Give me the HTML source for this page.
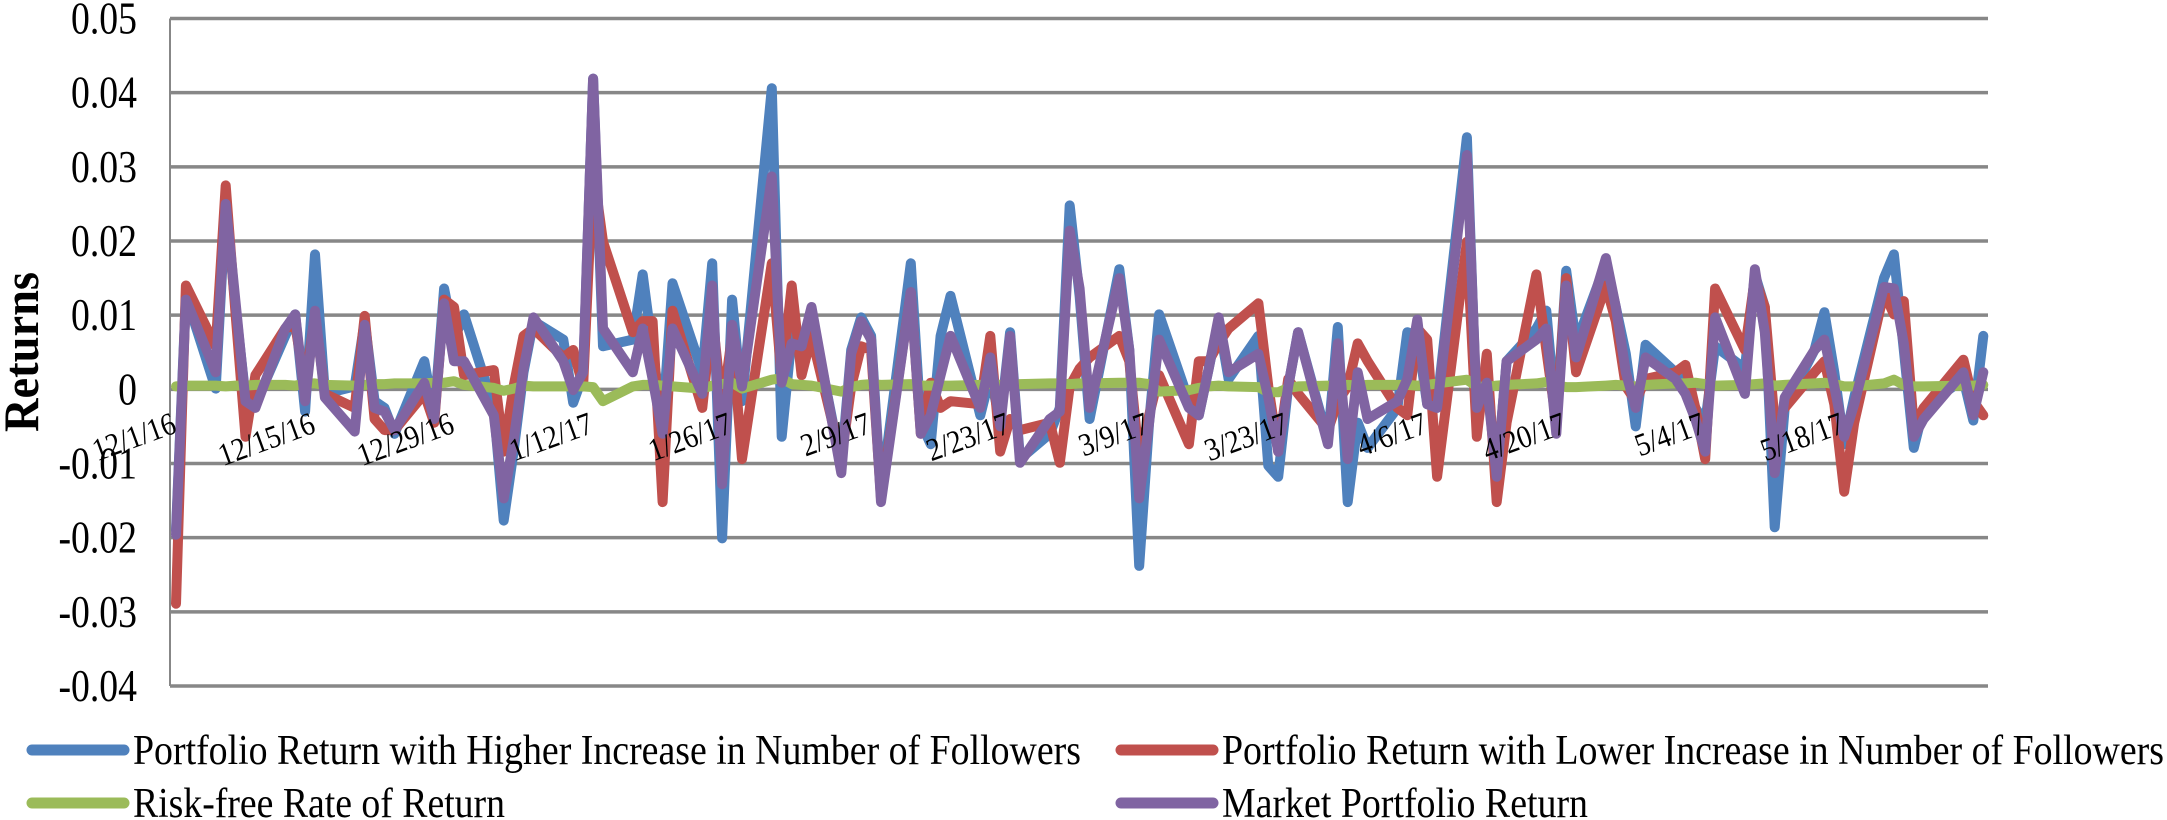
<!DOCTYPE html>
<html><head><meta charset="utf-8">
<style>
html,body{margin:0;padding:0;background:#fff;}
svg{display:block;font-family:"Liberation Serif","DejaVu Serif",serif;}
</style></head>
<body>
<svg id="chart" width="2167" height="820" viewBox="0 0 2167 820" xmlns="http://www.w3.org/2000/svg">
  <g id="grid"></g>
  <g id="yticks"></g>
  <g id="series"></g>
  <g id="xticks"></g>
  <text x="0" y="0" transform="translate(38,352) rotate(-90)" text-anchor="middle" font-size="50" font-weight="bold" fill="#000" textLength="160" lengthAdjust="spacingAndGlyphs">Returns</text>
  <g>
    <g>
      <line x1="32" y1="750" x2="124" y2="750" stroke="#4F81BD" stroke-width="11" stroke-linecap="round"/>
      <text x="133" y="764" font-size="42" textLength="948" lengthAdjust="spacingAndGlyphs">Portfolio Return with Higher Increase in Number of Followers</text>
    </g>
    <g>
      <line x1="1121" y1="750" x2="1213" y2="750" stroke="#C0504D" stroke-width="11" stroke-linecap="round"/>
      <text x="1222" y="764" font-size="42" textLength="942" lengthAdjust="spacingAndGlyphs">Portfolio Return with Lower Increase in Number of Followers</text>
    </g>
    <g>
      <line x1="32" y1="803" x2="124" y2="803" stroke="#9BBB59" stroke-width="11" stroke-linecap="round"/>
      <text x="133" y="817" font-size="42" textLength="372" lengthAdjust="spacingAndGlyphs">Risk-free Rate of Return</text>
    </g>
    <g>
      <line x1="1121" y1="803" x2="1213" y2="803" stroke="#8064A2" stroke-width="11" stroke-linecap="round"/>
      <text x="1222" y="817" font-size="42" textLength="366" lengthAdjust="spacingAndGlyphs">Market Portfolio Return</text>
    </g>
  </g>
</svg>
<script>
const dates = ["2016-12-01","2016-12-02","2016-12-05","2016-12-06","2016-12-07","2016-12-08","2016-12-09","2016-12-12","2016-12-13","2016-12-14","2016-12-15","2016-12-16","2016-12-19","2016-12-20","2016-12-21","2016-12-22","2016-12-23","2016-12-26","2016-12-27","2016-12-28","2016-12-29","2016-12-30",
"2017-01-02","2017-01-03","2017-01-04","2017-01-05","2017-01-06","2017-01-09","2017-01-10","2017-01-11","2017-01-12","2017-01-13","2017-01-16","2017-01-17","2017-01-18","2017-01-19","2017-01-20","2017-01-23","2017-01-24","2017-01-25","2017-01-26","2017-01-27","2017-01-30","2017-01-31",
"2017-02-01","2017-02-02","2017-02-03","2017-02-06","2017-02-07","2017-02-08","2017-02-09","2017-02-10","2017-02-13","2017-02-14","2017-02-15","2017-02-16","2017-02-17","2017-02-20","2017-02-21","2017-02-22","2017-02-23","2017-02-24","2017-02-27","2017-02-28",
"2017-03-01","2017-03-02","2017-03-03","2017-03-06","2017-03-07","2017-03-08","2017-03-09","2017-03-10","2017-03-13","2017-03-14","2017-03-15","2017-03-16","2017-03-17","2017-03-20","2017-03-21","2017-03-22","2017-03-23","2017-03-24","2017-03-27","2017-03-28","2017-03-29","2017-03-30","2017-03-31",
"2017-04-03","2017-04-04","2017-04-05","2017-04-06","2017-04-07","2017-04-10","2017-04-11","2017-04-12","2017-04-13","2017-04-14","2017-04-17","2017-04-18","2017-04-19","2017-04-20","2017-04-21","2017-04-24","2017-04-25","2017-04-26","2017-04-27","2017-04-28",
"2017-05-01","2017-05-02","2017-05-03","2017-05-04","2017-05-05","2017-05-08","2017-05-09","2017-05-10","2017-05-11","2017-05-12","2017-05-15","2017-05-16","2017-05-17","2017-05-18","2017-05-19","2017-05-22","2017-05-23","2017-05-24","2017-05-25","2017-05-26","2017-05-30","2017-05-31","2017-06-01"];

const higherReturns = [-0.0190,0.0126,0.0001,0.0248,0.0111,-0.0011,-0.0020,0.0072,0.0101,-0.0030,0.0182,-0.0006,0.0004,0.0092,-0.0016,-0.0025,-0.0060,0.0038,-0.0035,0.0136,0.0067,0.0101,
-0.0025,-0.0177,-0.0084,0.0023,0.0092,0.0067,-0.0018,0.0019,0.0419,0.0058,0.0067,0.0155,0.0053,-0.0045,0.0143,0.0023,0.0170,-0.0201,0.0121,-0.0016,0.0406,-0.0064,
0.0072,0.0053,0.0101,-0.0103,0.0053,0.0097,0.0072,-0.0142,0.0170,-0.0045,-0.0074,0.0072,0.0126,-0.0035,0.0019,-0.0045,0.0077,-0.0094,-0.0060,-0.0025,
0.0248,0.0126,-0.0040,0.0162,0.0053,-0.0238,-0.0045,0.0101,-0.0016,-0.0035,0.0028,0.0092,0.0014,0.0072,-0.0103,-0.0118,0.0004,0.0077,-0.0069,0.0084,-0.0152,-0.0045,-0.0079,
-0.0025,0.0077,0.0072,-0.0020,-0.0020,0.0340,-0.0040,0.0014,-0.0118,0.0038,0.0082,0.0106,-0.0045,0.0160,0.0062,0.0170,0.0111,0.0048,-0.0050,0.0060,
0.0023,0.0014,-0.0025,-0.0045,0.0058,0.0028,0.0155,0.0111,-0.0186,-0.0025,0.0053,0.0104,0.0023,-0.0074,-0.0011,0.0150,0.0182,0.0053,-0.0079,-0.0025,0.0014,-0.0042,0.0072];

const lowerReturns = [-0.0289,0.0140,0.0058,0.0275,0.0101,-0.0064,0.0019,0.0082,0.0087,0.0004,0.0101,-0.0006,-0.0025,0.0099,-0.0040,-0.0055,-0.0055,-0.0006,-0.0045,0.0121,0.0111,0.0019,
0.0026,-0.0084,0.0004,0.0072,0.0082,0.0043,0.0053,0.0004,0.0297,0.0199,0.0077,0.0092,0.0092,-0.0152,0.0106,-0.0025,0.0101,-0.0025,0.0072,-0.0094,0.0170,0.0014,
0.0140,0.0019,0.0072,-0.0094,0.0004,0.0058,0.0053,-0.0147,0.0131,-0.0060,0.0009,-0.0025,-0.0016,-0.0020,0.0072,-0.0084,-0.0040,-0.0055,-0.0045,-0.0099,
0.0004,0.0028,0.0043,0.0072,0.0038,-0.0094,-0.0035,0.0019,-0.0074,0.0038,0.0038,0.0062,0.0082,0.0116,0.0004,-0.0084,0.0014,-0.0006,-0.0055,-0.0016,0.0004,0.0062,0.0038,
-0.0025,-0.0035,0.0082,0.0067,-0.0118,0.0199,-0.0064,0.0048,-0.0152,-0.0045,0.0155,0.0053,-0.0045,0.0150,0.0023,0.0140,0.0092,0.0004,-0.0016,0.0014,
0.0023,0.0033,-0.0025,-0.0094,0.0136,0.0053,0.0150,0.0111,-0.0045,-0.0025,0.0023,0.0038,-0.0020,-0.0138,-0.0045,0.0131,0.0101,0.0119,-0.0050,-0.0025,0.0040,-0.0016,-0.0035];

const riskFree = [0.0004,0.0005,0.0005,0.0004,0.0005,0.0005,0.0006,0.0006,0.0005,0.0008,0.0008,0.0006,0.0005,0.0006,0.0007,0.0007,0.0008,0.0008,0.0009,0.0009,0.0011,0.0006,
0.0002,-0.0002,0.0001,0.0005,0.0004,0.0004,0.0004,0.0004,0.0003,-0.0016,0.0004,0.0006,0.0006,0.0005,0.0004,0.0001,0.0005,0.0007,0.0009,0.0001,0.0013,0.0015,
0.0007,0.0006,0.0005,-0.0003,0.0003,0.0006,0.0007,0.0006,0.0007,0.0005,0.0005,0.0005,0.0005,0.0006,0.0007,0.0006,0.0006,0.0007,0.0008,0.0008,
0.0007,0.0008,0.0008,0.0009,0.0009,0.0009,0.0007,-0.0003,-0.0001,0.0002,0.0004,0.0005,0.0004,0.0003,-0.0004,-0.0004,0.0002,0.0004,0.0005,0.0005,0.0006,0.0005,0.0006,
0.0006,0.0006,0.0005,0.0006,0.0008,0.0013,0.0004,0.0003,0.0005,0.0006,0.0008,0.0010,0.0005,0.0003,0.0003,0.0005,0.0006,0.0005,0.0004,0.0006,
0.0008,0.0008,0.0009,0.0007,0.0005,0.0006,0.0007,0.0008,0.0005,0.0006,0.0008,0.0009,0.0007,0.0004,0.0004,0.0008,0.0013,0.0006,0.0004,0.0004,0.0005,0.0005,0.0006];

const marketReturns = [-0.0196,0.0121,0.0023,0.0250,0.0117,-0.0016,-0.0025,0.0082,0.0101,-0.0016,0.0106,-0.0011,-0.0057,0.0087,-0.0025,-0.0030,-0.0055,0.0009,-0.0040,0.0116,0.0038,0.0038,
-0.0035,-0.0147,-0.0069,0.0028,0.0097,0.0038,-0.0001,0.0023,0.0419,0.0082,0.0023,0.0082,0.0014,-0.0060,0.0082,-0.0006,0.0140,-0.0128,0.0087,0.0004,0.0287,0.0009,
0.0062,0.0058,0.0111,-0.0113,0.0048,0.0092,0.0067,-0.0152,0.0131,-0.0060,-0.0035,0.0019,0.0072,-0.0025,0.0043,-0.0050,0.0072,-0.0099,-0.0040,-0.0030,
0.0214,0.0136,-0.0025,0.0150,0.0053,-0.0147,-0.0045,0.0067,-0.0025,-0.0035,0.0028,0.0097,0.0023,0.0048,-0.0011,-0.0084,0.0004,0.0077,-0.0074,0.0062,-0.0094,0.0023,-0.0040,
-0.0016,0.0014,0.0094,-0.0020,-0.0025,0.0316,-0.0025,0.0009,-0.0118,0.0038,0.0067,0.0082,-0.0060,0.0140,0.0043,0.0177,0.0111,0.0023,-0.0025,0.0043,
0.0014,-0.0006,-0.0040,-0.0084,0.0097,-0.0006,0.0162,0.0077,-0.0113,-0.0011,0.0053,0.0067,0.0004,-0.0064,-0.0020,0.0138,0.0136,0.0062,-0.0064,-0.0040,0.0023,-0.0035,0.0023];

const yTicks = [0.05,0.04,0.03,0.02,0.01,0,-0.01,-0.02,-0.03,-0.04];
const yTickLabels = ["0.05","0.04","0.03","0.02","0.01","0","-0.01","-0.02","-0.03","-0.04"];
const xTickDates = ["2016-12-01","2016-12-15","2016-12-29","2017-01-12","2017-01-26","2017-02-09","2017-02-23","2017-03-09","2017-03-23","2017-04-06","2017-04-20","2017-05-04","2017-05-18"];
const xTickLabels = ["12/1/16","12/15/16","12/29/16","1/12/17","1/26/17","2/9/17","2/23/17","3/9/17","3/23/17","4/6/17","4/20/17","5/4/17","5/18/17"];

const NS = "http://www.w3.org/2000/svg";
const PLOT_L = 170, PLOT_R = 1988, Y_TOP = 18.5, Y_BOT = 686;
const X0 = 176, PX_PER_DAY = 9.93;
const START = Date.UTC(2016,11,1);
function dayOffset(s){const p=s.split("-");return Math.round((Date.UTC(+p[0],+p[1]-1,+p[2])-START)/86400000);}
function xScale(s){return X0 + dayOffset(s)*PX_PER_DAY;}
function yScale(v){return Y_TOP + (0.05 - v)/0.09*(Y_BOT-Y_TOP);}

const grid = document.getElementById("grid");
const yt = document.getElementById("yticks");
yTicks.forEach((v,i)=>{
  const y = yScale(v);
  const ln = document.createElementNS(NS,"line");
  ln.setAttribute("x1",PLOT_L);ln.setAttribute("x2",PLOT_R);
  ln.setAttribute("y1",y);ln.setAttribute("y2",y);
  ln.setAttribute("stroke","#878787");ln.setAttribute("stroke-width","3.5");
  
  
  grid.appendChild(ln);
  const t = document.createElementNS(NS,"text");
  t.setAttribute("x",0);t.setAttribute("y",0);
  t.setAttribute("transform","translate(137,"+(y+15).toFixed(1)+") scale(0.82,1)");
  t.setAttribute("text-anchor","end");t.setAttribute("font-size","46");
  t.textContent = yTickLabels[i];
  
  
  yt.appendChild(t);
});
const ax = document.createElementNS(NS,"line");
ax.setAttribute("x1",PLOT_L);ax.setAttribute("x2",PLOT_L);
ax.setAttribute("y1",Y_TOP);ax.setAttribute("y2",Y_BOT);
ax.setAttribute("stroke","#878787");ax.setAttribute("stroke-width","2");


grid.appendChild(ax);

const seriesG = document.getElementById("series");
function drawSeries(vals,color,name,w){
  const pts = vals.map((v,i)=>xScale(dates[i]).toFixed(1)+","+yScale(v).toFixed(1)).join(" ");
  const pl = document.createElementNS(NS,"polyline");
  pl.setAttribute("points",pts);pl.setAttribute("fill","none");
  pl.setAttribute("stroke",color);pl.setAttribute("stroke-width",w);
  pl.setAttribute("stroke-linejoin","round");pl.setAttribute("stroke-linecap","round");
  
  
  seriesG.appendChild(pl);
}
drawSeries(higherReturns,"#4F81BD","series-higher-followers",10);
drawSeries(lowerReturns,"#C0504D","series-lower-followers",10);
drawSeries(riskFree,"#9BBB59","series-risk-free",10);
drawSeries(marketReturns,"#8064A2","series-market",10);

const xt = document.getElementById("xticks");
xTickDates.forEach((d,i)=>{
  const x = xScale(d);
  const t = document.createElementNS(NS,"text");
  t.setAttribute("x",0);t.setAttribute("y",0);
  t.setAttribute("text-anchor","end");t.setAttribute("font-size","32");
  t.setAttribute("transform","translate("+(x+2).toFixed(1)+",432) rotate(-20) scale(0.88,1)");
  t.textContent = xTickLabels[i];
  
  
  xt.appendChild(t);
});
</script>
</body></html>
